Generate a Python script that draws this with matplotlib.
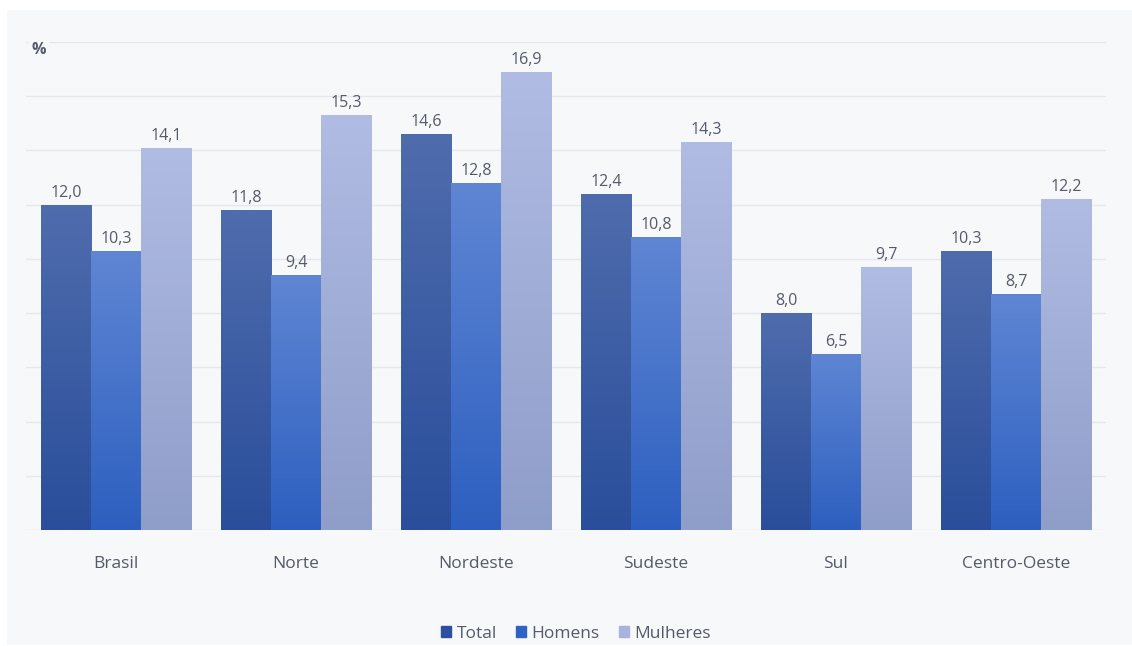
import numpy as np
import matplotlib.pyplot as plt
from matplotlib.patches import Rectangle
from matplotlib.colors import LinearSegmentedColormap

regioes = ["Brasil", "Norte", "Nordeste", "Sudeste", "Sul", "Centro-Oeste"]
total = [12.0, 11.8, 14.6, 12.4, 8.0, 10.3]
homens = [10.3, 9.4, 12.8, 10.8, 6.5, 8.7]
mulheres = [14.1, 15.3, 16.9, 14.3, 9.7, 12.2]
series_names = ["Total", "Homens", "Mulheres"]

# gradient (top, bottom) for each series
grads = [("#4f6cad", "#2a4e9b"), ("#5f86d3", "#2d5fc0"), ("#b0bce3", "#8f9dc9")]
legend_colors = ["#2c4f9e", "#2f62c4", "#a6b3dc"]
BG = "#f7f8fa"
TXT = "#535a69"

plt.rcParams["font.family"] = ["Open Sans", "DejaVu Sans"]

fig = plt.figure(figsize=(11.32, 6.46), dpi=100)
fig.patches.append(Rectangle((7 / 1132, 0.0015), 1, 1 - 10 / 646 - 0.0015,
                             transform=fig.transFigure, facecolor=BG,
                             edgecolor="none", zorder=-10))

ax = fig.add_axes([26 / 1132, 1 - 530 / 646, 1080 / 1132, 488 / 646])
ax.patch.set_alpha(0)

x = np.arange(len(regioes))
w = 0.278
for i, vals in enumerate([total, homens, mulheres]):
    off = (i - 1) * w
    cmap = LinearSegmentedColormap.from_list("g", [grads[i][1], grads[i][0]])
    bars = ax.bar(x + off, vals, width=w, color=legend_colors[i],
                  edgecolor="none", zorder=2, label=series_names[i])
    for b, v in zip(bars, vals):
        x0 = b.get_x()
        im = ax.imshow(np.linspace(0, 1, 256).reshape(-1, 1), cmap=cmap,
                       extent=[x0, x0 + b.get_width(), 0, v], origin="lower",
                       aspect="auto", zorder=3)
        im.set_clip_path(b)
        b.set_edgecolor("white")
        b.set_linewidth(0.6)
        ax.text(b.get_x() + b.get_width() / 2, v + 0.15,
                f"{v:.1f}".replace(".", ","), ha="center", va="bottom",
                fontsize=11.5, color=TXT, zorder=4)

ax.set_xlim(-0.5, len(regioes) - 0.5)
ax.set_ylim(0, 18)
ax.set_yticks(np.arange(0, 19, 2))
ax.grid(axis="y", color="#e6e8ee", linewidth=1, zorder=0)
ax.tick_params(axis="y", length=0, labelleft=False)
ax.set_xticks(x)
ax.set_xticklabels(regioes, fontsize=12.5, color=TXT)
ax.tick_params(axis="x", length=0, pad=19)
for s in ax.spines.values():
    s.set_visible(False)

ax.text(-0.43, 18, "%", ha="center", va="top", fontsize=11.5, color=TXT,
        fontweight="bold",
        bbox=dict(facecolor=BG, edgecolor="none", pad=2))

handles = [Rectangle((0, 0), 1, 1, color=c) for c in legend_colors]
fig.legend(handles, series_names, loc="center", bbox_to_anchor=(576 / 1132, 1 - 634 / 646),
           ncol=3, frameon=False, fontsize=12.5, handlelength=0.6, handleheight=0.6,
           handletextpad=0.3, columnspacing=1.1, labelcolor=TXT)

fig.savefig("out.png", dpi=100, facecolor="white")
